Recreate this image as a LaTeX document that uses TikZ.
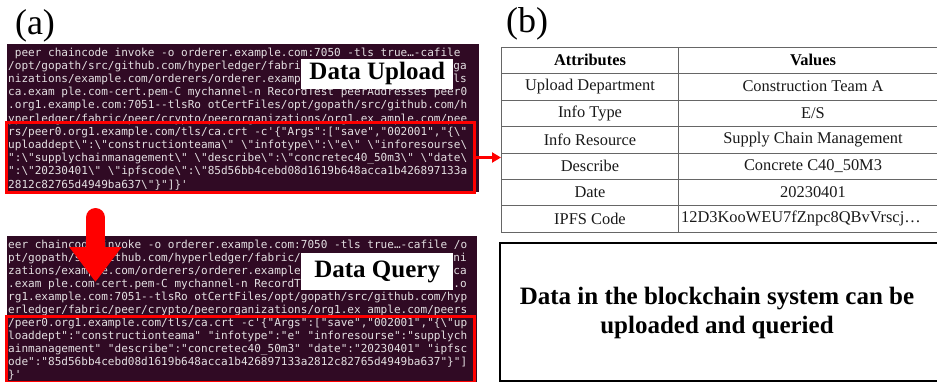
\documentclass[tikz,border=0pt]{standalone}
\usepackage{fontspec}
\setmainfont{Liberation Serif}
\setmonofont{DejaVu Sans Mono}
\usetikzlibrary{arrows.meta}
\definecolor{termbg}{HTML}{300A24}
\definecolor{termfg}{HTML}{E4E0E2}
\definecolor{hlred}{HTML}{FF0000}
\definecolor{gridgray}{HTML}{666666}
\newcommand\BSL{\textbackslash}
\tikzset{
  termbox/.style={fill=termbg, draw=none, inner sep=0pt, outer sep=0pt, anchor=north west},
  termtext/.style={anchor=west, inner sep=0pt, text=termfg,
    font=\ttfamily\fontsize{11.05}{13}\selectfont, text height=8.5pt, text depth=2.5pt},
  termtail/.style={termtext, anchor=east},
  redbox/.style={draw=hlred, line width=3pt, inner sep=0pt, anchor=north west},
  labelbox/.style={fill=white, inner sep=0pt, anchor=north west,
    font=\bfseries\fontsize{25}{28}\selectfont},
  panel/.style={inner sep=0pt, font=\fontsize{36}{40}\selectfont},
  cell/.style={inner sep=0pt, text=black!90, font=\fontsize{16.4}{18}\selectfont},
  cellhead/.style={inner sep=0pt, text=black, font=\bfseries\fontsize{16.4}{18}\selectfont},
  gridline/.style={draw=gridgray, line width=1pt},
  redarrow/.style={draw=hlred, line width=3pt, -{Triangle[length=9pt,width=10pt]}},
  bigarrow/.style={draw=hlred, line width=19pt, line cap=round, -{Triangle[length=35pt,width=50pt]}},
  notebox/.style={draw=black, line width=2pt, inner sep=0pt, anchor=north west},
  notetext/.style={inner sep=0pt, align=center, font=\bfseries\fontsize{25}{29}\selectfont}
}
\begin{document}
\begin{tikzpicture}[x=1pt,y=-1pt]
\useasboundingbox (0,0) rectangle (937,381);
% panel labels
\node[panel] (pa) at (35,25.5) {(a)};
\node[panel] (pb) at (527,24) {(b)};

% ---------- terminal 1 ----------
\node[termbox, minimum width=472pt, minimum height=148pt] (term1) at (7,44) {};
\node[termtext] (u1) at (8,53.0) {\hphantom{x}peer chaincode invoke -o orderer.example.com:7050 -tls true…-cafile};
\node[termtext] (u2) at (8,66.2) {/opt/gopath/src/github.com/hyperledger/fabri};
\node[termtail] (u2r) at (467,66.2) {ga};
\node[termtext] (u3) at (8,79.4) {nizations/example.com/orderers/orderer.examp};
\node[termtail] (u3r) at (467,79.4) {ls};
\node[termtext] (u4) at (8,92.6) {ca.exam ple.com-cert.pem-C mychannel-n RecordTest peerAddresses peer0};
\node[termtext] (u5) at (8,105.8) {.org1.example.com:7051--tlsRo otCertFiles/opt/gopath/src/github.com/h};
\node[termtext] (u6) at (8,119.0) {yperledger/fabric/peer/crypto/peerorganizations/org1.ex ample.com/pee};
\node[termtext] (u7) at (8,132.2) {rs/peer0.org1.example.com/tls/ca.crt -c'\{"Args":["save","002001","\{\BSL"};
\node[termtext] (u8) at (8,145.4) {uploaddept\BSL":\BSL"constructionteama\BSL" \BSL"infotype\BSL":\BSL"e\BSL" \BSL"inforesourse\BSL};
\node[termtext] (u9) at (8,158.6) {":\BSL"supplychainmanagement\BSL" \BSL"describe\BSL":\BSL"concretec40\_50m3\BSL" \BSL"date\BSL};
\node[termtext] (u10) at (8,171.8) {":\BSL"20230401\BSL" \BSL"ipfscode\BSL":\BSL"85d56bb4cebd08d1619b648acca1b426897133a};
\node[termtext] (u11) at (8,185.0) {2812c82765d4949ba637\BSL"\}"]\}'};
\node[redbox, minimum width=468pt, minimum height=70pt] (sel1) at (5,121) {};
\node[labelbox, minimum width=152pt, minimum height=30.5pt] (upl) at (301,58.5) {Data Upload};

% ---------- terminal 2 ----------
\node[termbox, minimum width=470pt, minimum height=150pt] (term2) at (7,236) {};
\node[termtext] (q1) at (8,245.0) {eer chaincode invoke -o orderer.example.com:7050 -tls true…-cafile /o};
\node[termtext] (q2) at (8,258.0) {pt/gopath/src/github.com/hyperledger/fabric/};
\node[termtail] (q2r) at (467,258.0) {ni};
\node[termtext] (q3) at (8,271.0) {zations/example.com/orderers/orderer.example};
\node[termtail] (q3r) at (467,271.0) {ca};
\node[termtext] (q4) at (8,284.0) {.exam ple.com-cert.pem-C mychannel-n RecordT};
\node[termtail] (q4r) at (467,284.0) {.o};
\node[termtext] (q5) at (8,297.0) {rg1.example.com:7051--tlsRo otCertFiles/opt/gopath/src/github.com/hyp};
\node[termtext] (q6) at (8,310.0) {erledger/fabric/peer/crypto/peerorganizations/org1.ex ample.com/peers};
\node[termtext] (q7) at (8,323.0) {/peer0.org1.example.com/tls/ca.crt -c'\{"Args":["save","002001","\{\BSL"up};
\node[termtext] (q8) at (8,336.0) {loaddept":"constructionteama" "infotype":"e" "inforesourse":"supplych};
\node[termtext] (q9) at (8,349.0) {ainmanagement" "describe":"concretec40\_50m3" "date":"20230401" "ipfsc};
\node[termtext] (q10) at (8,362.0) {ode":"85d56bb4cebd08d1619b648acca1b426897133a2812c82765d4949ba637"\}"]};
\node[termtext] (q11) at (8,375.0) {\}'};
\node[redbox, minimum width=468pt, minimum height=66pt] (sel2) at (5,315) {};
\node[labelbox, minimum width=152pt, minimum height=37pt] (qry) at (301,253) {Data Query};

% big down arrow
\coordinate (arrtop) at (95.5,217.5);
\coordinate (arrtip) at (95.5,282);
\draw[bigarrow] (arrtop) -- (arrtip);

% ---------- table ----------
\node[draw=gridgray, line width=1pt, inner sep=0pt, anchor=north west,
      minimum width=450pt, minimum height=185pt] (tbl) at (501,47) {};
\draw[gridline] (678,47) -- (678,232);
\foreach \yy in {73,100,126,153,179,205}{
  \draw[gridline] (501,\yy) -- (951,\yy);
}
\node[cellhead] (h1) at (590,60) {Attributes};
\node[cellhead] (h2) at (813,60) {Values};
\node[cell] (a1) at (590,86.5) {Upload Department};
\node[cell] (v1) at (813,86.5) {Construction Team A};
\node[cell] (a2) at (590,113) {Info Type};
\node[cell] (v2) at (813,113) {E/S};
\node[cell] (a3) at (590,139.5) {Info Resource};
\node[cell] (v3) at (813,139.5) {Supply Chain Management};
\node[cell] (a4) at (590,166) {Describe};
\node[cell] (v4) at (813,166) {Concrete C40\_50M3};
\node[cell] (a5) at (590,192) {Date};
\node[cell] (v5) at (813,192) {20230401};
\node[cell] (a6) at (590,218.5) {IPFS Code};
\node[cell, anchor=west] (v6) at (681,218.5) {12D3KooWEU7fZnpc8QBvVrscj…};

% arrow from selection to table
\draw[redarrow] (sel1.east) -- (sel1.east -| tbl.west);

% ---------- note box ----------
\node[notebox, minimum width=445pt, minimum height=138pt] (note) at (499,242) {};
\node[notetext] (notet) at (717,312.5) {Data in the blockchain system can be\\uploaded and queried};
\end{tikzpicture}
\end{document}
